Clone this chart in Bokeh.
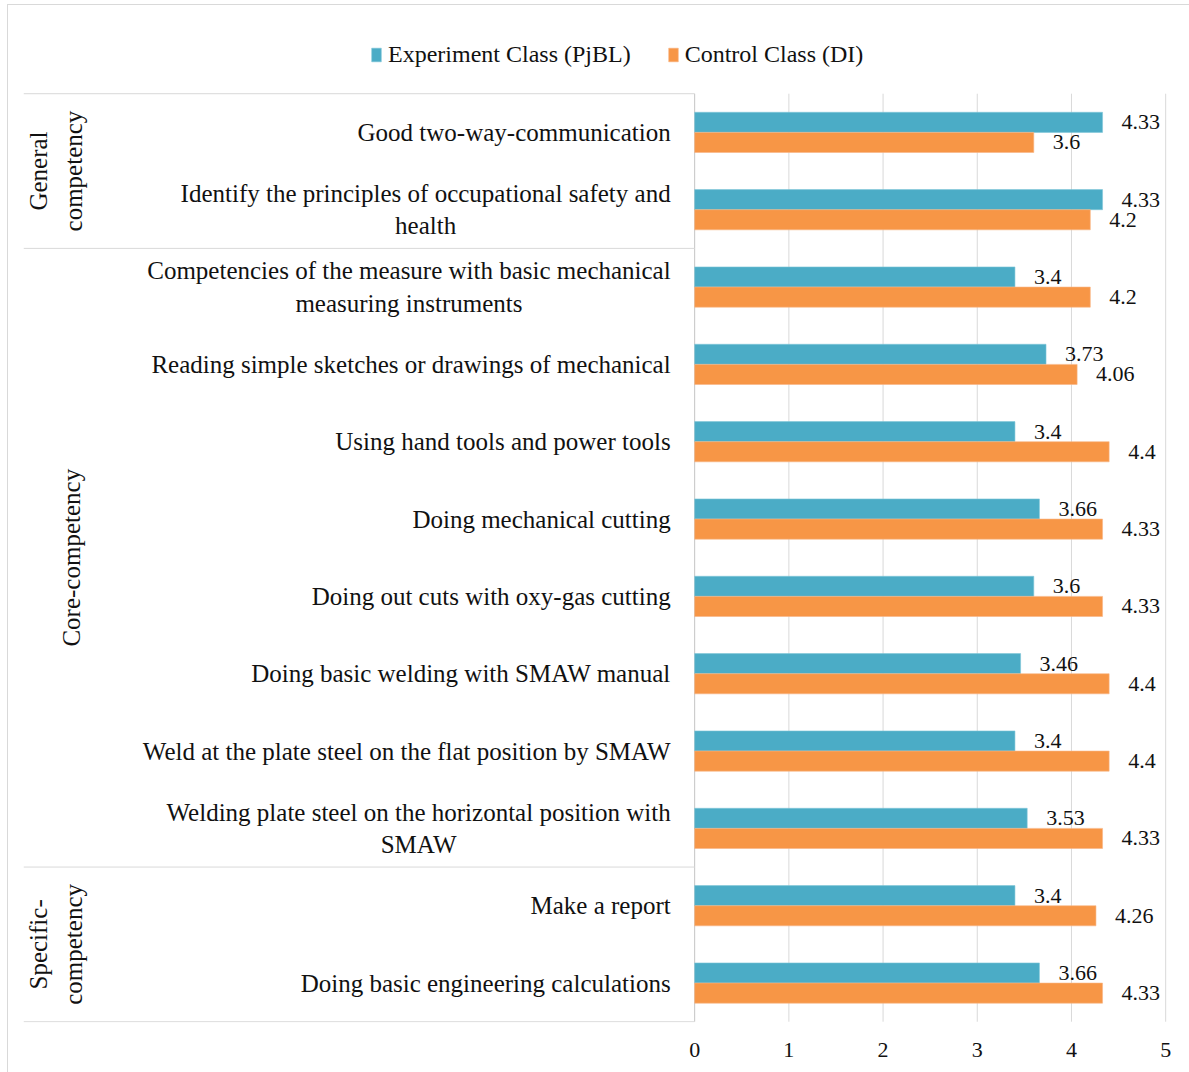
from bokeh.plotting import figure
from bokeh.models import Range1d, FixedTicker, Legend, LegendItem, ColumnDataSource
from bokeh.core.properties import value
from bokeh.embed import file_html
from bokeh.resources import INLINE

# ---------------- data ----------------
categories = [
    "Good two-way-communication",
    "Identify the principles of occupational safety and\nhealth",
    "Competencies of the measure with basic mechanical\nmeasuring instruments",
    "Reading simple sketches or drawings of mechanical",
    "Using hand tools and power tools",
    "Doing mechanical cutting",
    "Doing out cuts with oxy-gas cutting",
    "Doing basic welding with SMAW manual",
    "Weld at the plate steel on the flat position by SMAW",
    "Welding plate steel on the horizontal position with\nSMAW",
    "Make a report",
    "Doing basic engineering calculations",
]
experiment = [4.33, 4.33, 3.4, 3.73, 3.4, 3.66, 3.6, 3.46, 3.4, 3.53, 3.4, 3.66]
control = [3.6, 4.2, 4.2, 4.06, 4.4, 4.33, 4.33, 4.4, 4.4, 4.33, 4.26, 4.33]
groups = ["General\ncompetency", "Core-competency", "Specific-\ncompetency"]
group_sizes = [2, 8, 2]
series_names = ["Experiment Class (PjBL)", "Control Class (DI)"]
x_ticks = [0, 1, 2, 3, 4, 5]

# ---------------- styling ----------------
FONT = "Liberation Serif"
BLUE = "#4BACC6"
ORANGE = "#F79646"
GRID = "#d9d9d9"
TEXT = "#111111"

n = len(categories)
row_y = [n - i - 0.5 for i in range(n)]
bar_h = 0.26
exp_y = [y + bar_h / 2 for y in row_y]
ctl_y = [y - bar_h / 2 for y in row_y]

src = ColumnDataSource(dict(cat=categories, row_y=row_y, exp=experiment, ctl=control,
                            exp_y=exp_y, ctl_y=ctl_y,
                            exp_txt=[str(v) for v in experiment],
                            ctl_txt=[str(v) for v in control]))

X0 = -7.125
Y0 = -0.01
Y1 = Y0 + 13.086
p = figure(width=1181, height=1067, output_backend="svg", toolbar_location=None,
           x_range=Range1d(X0, 5.2), y_range=Range1d(Y0, Y1),
           y_axis_location=None, min_border_left=15, min_border_right=5,
           min_border_top=5, min_border_bottom=50, margin=(5, 0, 0, 8),
           styles={"outline": "1px solid #d9d9d9"})
p.outline_line_color = None
p.background_fill_color = "white"

# axis (tick labels only)
p.xgrid.grid_line_color = None
p.ygrid.grid_line_color = None
p.xaxis.ticker = FixedTicker(ticks=x_ticks)
p.xaxis.axis_line_color = None
p.xaxis.major_tick_line_color = None
p.xaxis.minor_tick_line_color = None
p.xaxis.major_label_text_font = FONT
p.xaxis.major_label_text_font_size = "22px"
p.xaxis.major_label_text_color = TEXT
p.xaxis.major_label_standoff = 14

# vertical gridlines limited to the plotted rows
p.segment(x0=x_ticks[1:], x1=x_ticks[1:], y0=0, y1=n, line_color=GRID, line_width=1)
# category axis line at 0
p.segment(x0=[0], x1=[0], y0=[0], y1=[n], line_color="#c4c4c4", line_width=1)

# group separators
bounds = [n]
acc = n
for s in group_sizes:
    acc -= s
    bounds.append(acc)
p.segment(x0=[X0] * len(bounds), x1=[0] * len(bounds), y0=bounds, y1=bounds,
          line_color=GRID, line_width=1)

# bars
r1 = p.hbar(y="exp_y", right="exp", left=0, height=bar_h, source=src,
            fill_color=BLUE, line_color="#7fc6d8", line_width=0.6)
r2 = p.hbar(y="ctl_y", right="ctl", left=0, height=bar_h, source=src,
            fill_color=ORANGE, line_color="#f9b685", line_width=0.6)

# data labels
p.text(x="exp", y="exp_y", text="exp_txt", source=src, x_offset=19,
       text_align="left", text_baseline="middle", text_font=value(FONT),
       text_font_size="22px", text_color=TEXT)
p.text(x="ctl", y="ctl_y", text="ctl_txt", source=src, x_offset=19,
       text_align="left", text_baseline="middle", text_font=value(FONT),
       text_font_size="22px", text_color=TEXT)

# category labels
p.text(x=0, y="row_y", text="cat", source=src, x_offset=-24,
       text_align="center", anchor=value("center_right"), text_baseline="middle",
       text_font=value(FONT), text_font_size="25px", text_color=TEXT, text_line_height=1.2)

# group labels
group_y = []
top = n
for s in group_sizes:
    group_y.append(top - s / 2)
    top -= s
group_x = [-6.78, -6.62, -6.78]
p.text(x=group_x, y=group_y, text=groups, angle=1.5708,
       text_align="center", text_baseline="middle", anchor=value("center"),
       text_font=value(FONT), text_font_size="25px", text_color=TEXT, text_line_height=1.28)

legend = Legend(items=[LegendItem(label=series_names[0], renderers=[r1]),
                       LegendItem(label=series_names[1], renderers=[r2])],
                orientation="horizontal", location=(347, 954),
                glyph_width=12, glyph_height=17, label_standoff=6, spacing=36,
                label_text_font=FONT, label_text_font_size="24px", label_text_color=TEXT,
                border_line_color=None, background_fill_alpha=0, padding=0, margin=0)
p.add_layout(legend)

open("out.html", "w").write(file_html(p, INLINE))
